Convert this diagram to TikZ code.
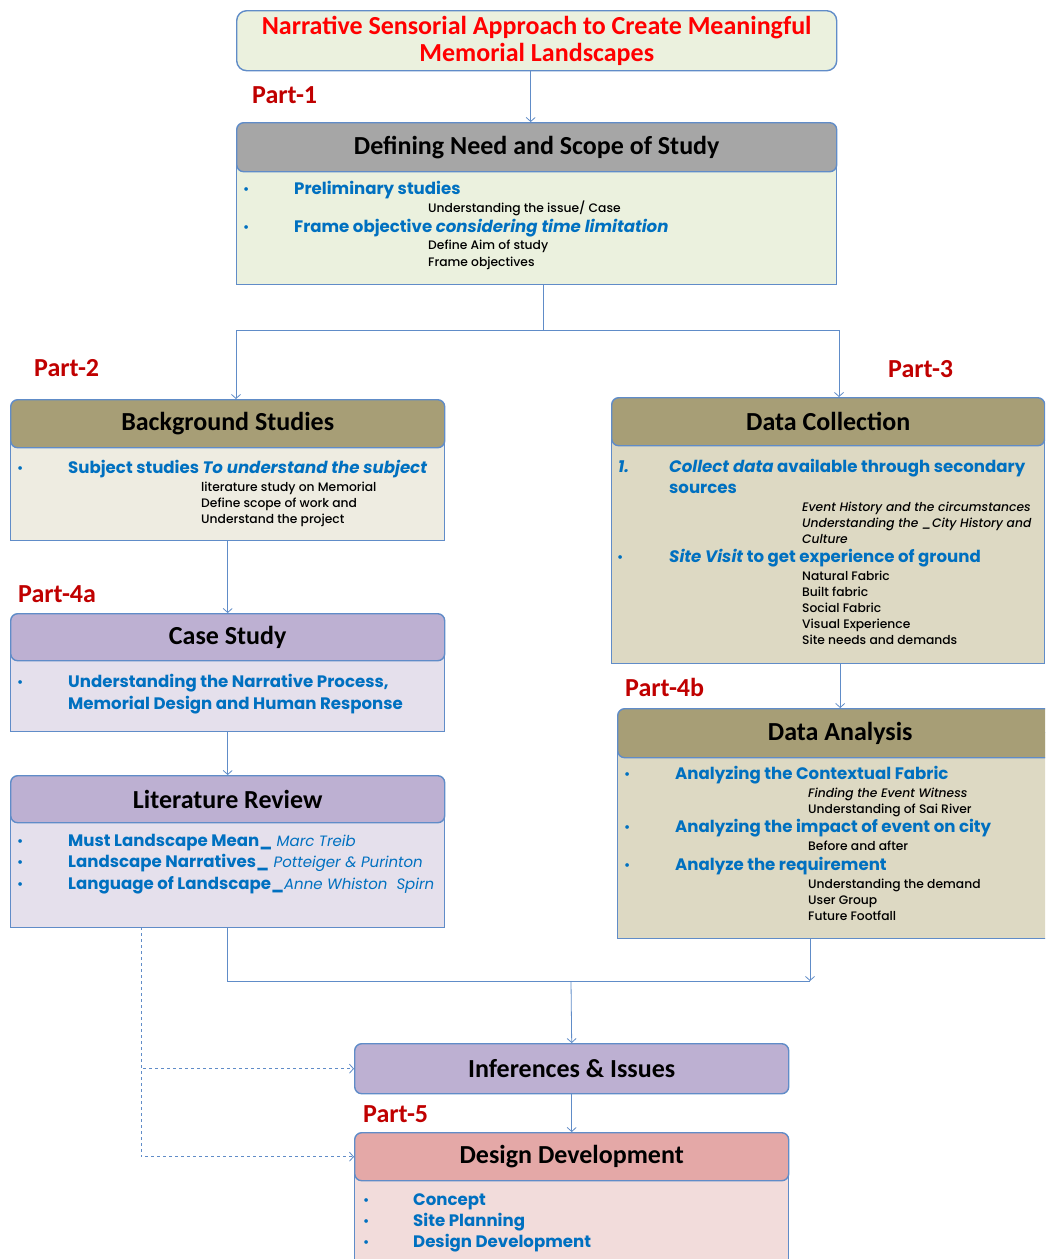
\documentclass[tikz,border=0pt]{standalone}
\usepackage{fontspec}
\setmainfont{Poppins}
\newfontfamily\headfont{Carlito}
\newfontfamily\medfont{Poppins Medium}
\usetikzlibrary{positioning,arrows.meta}

\definecolor{lineblue}{RGB}{96,140,200}
\definecolor{itemblue}{RGB}{0,112,192}
\definecolor{partred}{RGB}{192,0,0}
\definecolor{titlered}{RGB}{255,0,0}
\definecolor{titlefill}{RGB}{235,241,222}
\definecolor{grayhead}{RGB}{166,166,166}
\definecolor{olivehead}{RGB}{167,158,118}
\definecolor{bgbody}{RGB}{238,236,225}
\definecolor{tanbody}{RGB}{221,217,195}
\definecolor{purplehead}{RGB}{189,176,210}
\definecolor{purplebody}{RGB}{229,224,236}
\definecolor{pinkhead}{RGB}{228,168,167}
\definecolor{pinkbody}{RGB}{242,220,219}

\newcommand{\authorname}[1]{{\mdseries\itshape\fontsize{15}{18}\selectfont #1}}

\tikzset{
  box/.style={draw=lineblue, line width=1.4pt, inner sep=0pt, anchor=north west},
  head/.style={box, rounded corners=7pt, minimum height=49pt,
    font=\headfont\bfseries\fontsize{26}{28}\selectfont},
  item/.style={anchor=base west, inner sep=0pt, text=itemblue,
    font=\bfseries\fontsize{16.6}{19}\selectfont},
  dot/.style={item, font=\fontsize{15}{16}\selectfont},
  sub/.style={anchor=base west, inner sep=0pt, font=\medfont\fontsize{12.3}{13}\selectfont},
  part/.style={anchor=base west, inner sep=0pt, text=partred,
    font=\headfont\bfseries\fontsize{26}{28}\selectfont},
  conn/.style={draw=lineblue, line width=0.8pt, -{Straight Barb[length=4pt,width=9pt]}},
  dconn/.style={conn, dashed}
}

\begin{document}
\begin{tikzpicture}[x=1pt, y=-1pt]
  \useasboundingbox (0,0) rectangle (1045,1259);
  \fill[white] (0,0) rectangle (1045,1259);
  \clip (0,0) rectangle (1045,1259);

  % title
  \node[box, rounded corners=10pt, fill=titlefill, minimum width=600pt, minimum height=60pt,
    text=titlered, align=center, font=\headfont\bfseries\fontsize{26}{27}\selectfont]
    (title) at (236,10) {Narrative Sensorial Approach to Create Meaningful\\Memorial Landscapes};

  % part 1
  \node[part] (lbl1) at (252,103) {Part-1};
  \node[box, fill=titlefill, minimum width=600pt, minimum height=137pt] (need) at (236,147) {};
  \node[head, fill=grayhead, minimum width=600pt] (needhead) at (236,122) {Defining Need and Scope of Study};
  \node[dot] (needd1) at (243,194) {•};
  \node[item] (needi1) at (294,194) {Preliminary studies};
  \node[sub] (needs1) at (428,212) {Understanding the issue/ Case};
  \node[dot] (needd2) at (243,232) {•};
  \node[item] (needi2) at (294,232) {Frame objective \textit{considering time limitation}};
  \node[sub] (needs2) at (428,249) {Define Aim of study};
  \node[sub] (needs3) at (428,266) {Frame objectives};

  % part 2
  \node[part] (lbl2) at (34,376) {Part-2};
  \node[box, fill=bgbody, minimum width=434pt, minimum height=117pt] (bg) at (10,423) {};
  \node[head, fill=olivehead, minimum width=434pt, minimum height=48pt] (bghead) at (10,399) {Background Studies};
  \node[dot] (bgd1) at (17,473) {•};
  \node[item] (bgi1) at (68,473) {Subject studies \textit{To understand the subject}};
  \foreach \t [count=\i] in {literature study on Memorial, Define scope of work and, Understand the project}
    \node[sub, name=bgs\i] at (201,475+16*\i) {\t};

  % part 3
  \node[part] (lbl3) at (888,377) {Part-3};
  \node[box, fill=tanbody, minimum width=433pt, minimum height=242pt] (dc) at (611,421) {};
  \node[head, fill=olivehead, minimum width=433pt, minimum height=48pt] (dchead) at (611,397) {Data Collection};
  \node[item] (dcd1) at (618,472) {\textit{1.}};
  \node[item] (dci1) at (669,472) {\textit{Collect data} available through secondary};
  \node[item] (dci2) at (669,493) {sources};
  \foreach \t [count=\i] in {Event History and the circumstances, Understanding the \_City History and, Culture}
    \node[sub, name=dcs\i, font=\medfont\itshape\fontsize{12.3}{13}\selectfont] at (802,495+16*\i) {\t};
  \node[dot] (dcd2) at (617,562) {•};
  \node[item] (dci3) at (669,562) {\textit{Site Visit} to get experience of ground};
  \foreach \t [count=\i] in {Natural Fabric, Built fabric, Social Fabric, Visual Experience, Site needs and demands}
    \node[sub, name=dct\i] at (802,564+16*\i) {\t};

  % part 4a
  \node[part] (lbl4a) at (18,602) {Part-4a};
  \node[box, fill=purplebody, minimum width=434pt, minimum height=94pt] (cs) at (10,637) {};
  \node[head, fill=purplehead, minimum width=434pt, minimum height=47pt] (cshead) at (10,613) {Case Study};
  \node[dot] (csd1) at (17,687) {•};
  \node[item] (csi1) at (68,687) {Understanding the Narrative Process,};
  \node[item] (csi2) at (68,709) {Memorial Design and Human Response};

  \node[box, fill=purplebody, minimum width=434pt, minimum height=128pt] (lit) at (10,799) {};
  \node[head, fill=purplehead, minimum width=434pt, minimum height=47pt] (lithead) at (10,775) {Literature Review};
  \node[dot] (litd1) at (17,846) {•};
  \node[item] (liti1) at (68,846) {Must Landscape Mean\_\authorname{\ Marc Treib}};
  \node[dot] (litd2) at (17,867) {•};
  \node[item] (liti2) at (68,867) {Landscape Narratives\_\authorname{\ Potteiger \& Purinton}};
  \node[dot] (litd3) at (17,889) {•};
  \node[item] (liti3) at (68,889) {Language of Landscape\_\authorname{Anne Whiston\ \ Spirn}};

  % part 4b
  \node[part] (lbl4b) at (625,696) {Part-4b};
  \node[box, fill=tanbody, minimum width=445pt, minimum height=206pt] (da) at (617,732) {};
  \node[head, fill=olivehead, minimum width=445pt, minimum height=49pt] (dahead) at (617,708) {Data Analysis};
  \node[dot] (dad1) at (624,779) {•};
  \node[item] (dai1) at (675,779) {Analyzing the Contextual Fabric};
  \node[sub, font=\medfont\itshape\fontsize{12.3}{13}\selectfont] (das1) at (808,797) {Finding the Event Witness};
  \node[sub] (das2) at (808,813) {Understanding of Sai River};
  \node[dot] (dad2) at (624,832) {•};
  \node[item] (dai2) at (675,832) {Analyzing the impact of event on city};
  \node[sub] (das3) at (808,850) {Before and after};
  \node[dot] (dad3) at (624,870) {•};
  \node[item] (dai3) at (675,870) {Analyze the requirement};
  \foreach \t [count=\i] in {Understanding the demand, User Group, Future Footfall}
    \node[sub, name=dau\i] at (808,872+16*\i) {\t};

  % part 5
  \node[box, rounded corners=7pt, fill=purplehead, minimum width=434pt, minimum height=50pt,
    font=\headfont\bfseries\fontsize{26}{28}\selectfont] (inf) at (354,1043) {Inferences \& Issues};
  \node[part] (lbl5) at (363,1122) {Part-5};
  \node[box, fill=pinkbody, minimum width=434pt, minimum height=150pt] (dd) at (354,1156) {};
  \node[head, fill=pinkhead, minimum width=434pt, minimum height=48pt] (ddhead) at (354,1132) {Design Development};
  \node[dot] (ddd1) at (363,1205) {•};
  \node[item] (ddi1) at (413,1205) {Concept};
  \node[dot] (ddd2) at (363,1226) {•};
  \node[item] (ddi2) at (413,1226) {Site Planning};
  \node[dot] (ddd3) at (363,1247) {•};
  \node[item] (ddi3) at (413,1247) {Design Development};

  % connectors
  \coordinate (fork) at (543,330);
  \coordinate (forkL) at (236,330);
  \coordinate (forkR) at (839,330);
  \coordinate (join) at (571,981);
  \coordinate (joinR) at (810,981);
  \coordinate (dash) at (141,927);

  \draw[conn] ([xshift=-6pt]title.south) -- ([xshift=-6pt]needhead.north);
  \draw[draw=lineblue, line width=0.8pt] (need.south -| fork) -- (fork) -- (forkL);
  \draw[draw=lineblue, line width=0.8pt] (fork) -- (forkR);
  \draw[conn] (forkL) -- (forkL |- bghead.north);
  \draw[conn] (forkR) -- (forkR |- dchead.north);
  \draw[conn] (bg.south) -- (cshead.north);
  \draw[conn] (cs.south) -- (lithead.north);
  \draw[conn] (dc.south -| da.north) -- (dahead.north);
  \draw[draw=lineblue, line width=0.8pt] (lit.south) |- (joinR);
  \draw[conn] (da.south -| joinR) -- (joinR);
  \draw[conn] (join) -- (inf.north);
  \draw[conn] (inf.south) -- (ddhead.north);
  \draw[dconn] (dash) |- (inf.west);
  \draw[dconn] (dash) |- (ddhead.west);
\end{tikzpicture}
\end{document}
